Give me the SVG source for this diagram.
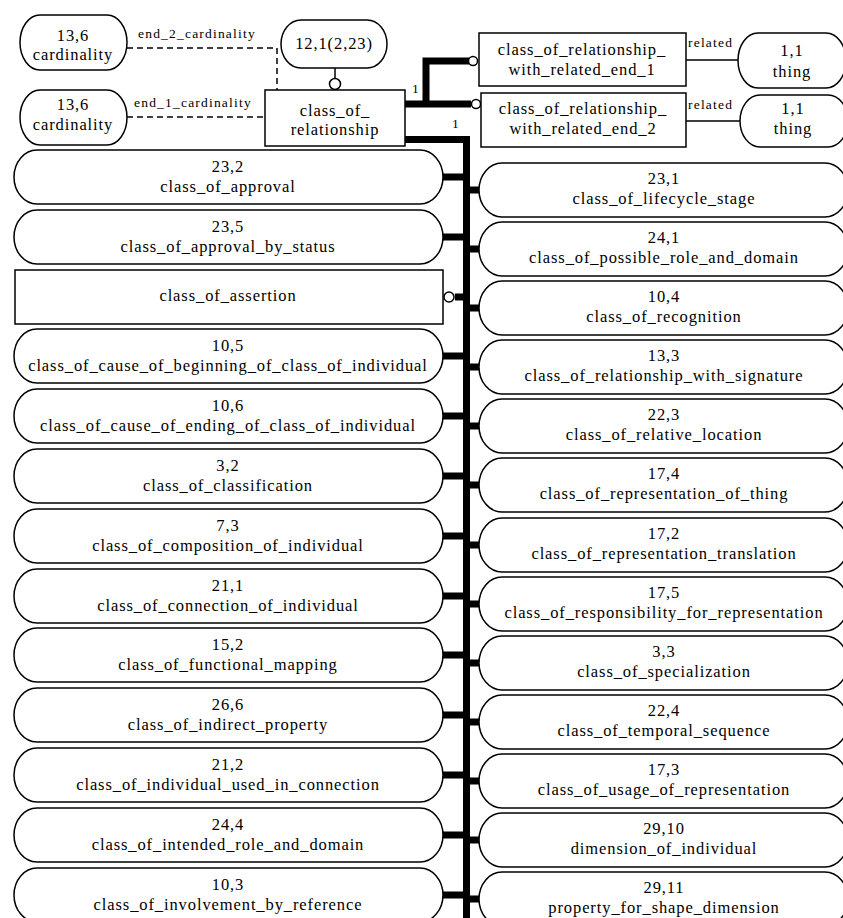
<svg xmlns="http://www.w3.org/2000/svg" xmlns:xlink="http://www.w3.org/1999/xlink" width="843" height="918" viewBox="0 0 843 918">
<style>
.n{fill:#fff;stroke:#000;stroke-width:1.5}
.t{font-family:"Liberation Serif","Times New Roman",serif;font-size:16.5px;letter-spacing:0.9px;text-anchor:middle;fill:#000}
.l{font-family:"Liberation Serif","Times New Roman",serif;font-size:13.5px;letter-spacing:1.2px;fill:#000}
.thick{fill:none;stroke:#000;stroke-width:7}
.dash{fill:none;stroke:#000;stroke-width:1.5;stroke-dasharray:6 4}
.thin{fill:none;stroke:#000;stroke-width:1.5}
.oc{fill:#fff;stroke:#000;stroke-width:1.5}
</style>
<defs>
<path id="pillL" d="M37,0 H420 A23,27 0 0 1 420,54 H37 A23,27 0 0 1 37,0 Z"/>
<path id="pillR" d="M502,0 H825 A23,27 0 0 1 825,54 H502 A23,27 0 0 1 502,0 Z"/>
</defs>
<rect width="843" height="918" fill="#fff"/>

<g id="connectors">
  <path class="dash" d="M127,48 H277 V90"/>
  <path class="dash" d="M127,117 H265"/>
  <text class="l" x="138" y="38">end_2_cardinality</text>
  <text class="l" x="134" y="107">end_1_cardinality</text>
  <path class="thin" d="M335,68 V78"/>
  <circle class="oc" cx="335" cy="84" r="5.5"/>
  <path class="thick" d="M404,104 H471 M426,104 V61 H469"/>
  <circle class="oc" cx="473" cy="61" r="4.5"/>
  <circle class="oc" cx="476" cy="104" r="4.5"/>
  <text class="l" x="412" y="93">1</text>
  <text class="l" x="452" y="128">1</text>
  <path class="thin" d="M686,60 H738 M686,121 H740"/>
  <text class="l" x="688" y="47">related</text>
  <text class="l" x="688" y="109">related</text>
  <path class="thick" d="M404,139.5 H466.5 V918"/>
  <!-- left stubs -->
  <path class="thick" d="M441,177 H466 M441,237 H466 M455,297 H466 M441,356 H466 M441,416 H466 M441,476 H466 M441,536 H466 M441,596 H466 M441,655 H466 M441,715 H466 M441,775 H466 M441,835 H466 M441,895 H466"/>
  <circle class="oc" cx="449" cy="297" r="5"/>
  <!-- right stubs -->
  <path class="thick" d="M466,190 H481 M466,249 H481 M466,308 H481 M466,367 H481 M466,426 H481 M466,485 H481 M466,545 H481 M466,604 H481 M466,663 H481 M466,722 H481 M466,781 H481 M466,840 H481 M466,899 H481"/>
</g>

<g id="card2"><path class="n" d="M40,15 H107 A20,27.5 0 0 1 107,70 H40 A20,27.5 0 0 1 40,15 Z"/><text class="t" x="73" y="41">13,6</text><text class="t" x="73" y="60">cardinality</text></g>
<g id="card1"><path class="n" d="M40,90 H107 A20,27.5 0 0 1 107,145 H40 A20,27.5 0 0 1 40,90 Z"/><text class="t" x="73" y="110">13,6</text><text class="t" x="73" y="130">cardinality</text></g>
<g id="n12_1"><path class="n" d="M301,20 H367 A20,24 0 0 1 367,68 H301 A20,24 0 0 1 301,20 Z"/><text class="t" x="334" y="49">12,1(2,23)</text></g>
<g id="class_of_relationship"><rect class="n" x="265" y="90" width="140" height="56"/><text class="t" x="335" y="116">class_of_</text><text class="t" x="335" y="135">relationship</text></g>
<g id="corwre1"><rect class="n" x="479" y="33" width="207" height="53"/><text class="t" x="582" y="55">class_of_relationship_</text><text class="t" x="582" y="75">with_related_end_1</text></g>
<g id="corwre2"><rect class="n" x="481" y="93" width="205" height="54"/><text class="t" x="583" y="114">class_of_relationship_</text><text class="t" x="583" y="134">with_related_end_2</text></g>
<g id="thing1"><path class="n" d="M758,33 H826 A20,27.5 0 0 1 826,88 H758 A20,27.5 0 0 1 758,33 Z"/><text class="t" x="792" y="56">1,1</text><text class="t" x="792" y="77">thing</text></g>
<g id="thing2"><path class="n" d="M760,95 H828 A20,26 0 0 1 828,147 H760 A20,26 0 0 1 760,95 Z"/><text class="t" x="793" y="114">1,1</text><text class="t" x="793" y="134">thing</text></g>

<g id="L0" transform="translate(0,150)"><use href="#pillL" class="n"/><text class="t" x="228" y="22">23,2</text><text class="t" x="228" y="42">class_of_approval</text></g>
<g id="L1" transform="translate(0,210)"><use href="#pillL" class="n"/><text class="t" x="228" y="22">23,5</text><text class="t" x="228" y="42">class_of_approval_by_status</text></g>
<g id="L2"><rect class="n" x="15" y="270" width="428" height="54"/><text class="t" x="228" y="301">class_of_assertion</text></g>
<g id="L3" transform="translate(0,329)"><use href="#pillL" class="n"/><text class="t" x="228" y="22">10,5</text><text class="t" x="228" y="42">class_of_cause_of_beginning_of_class_of_individual</text></g>
<g id="L4" transform="translate(0,389)"><use href="#pillL" class="n"/><text class="t" x="228" y="22">10,6</text><text class="t" x="228" y="42">class_of_cause_of_ending_of_class_of_individual</text></g>
<g id="L5" transform="translate(0,449)"><use href="#pillL" class="n"/><text class="t" x="228" y="22">3,2</text><text class="t" x="228" y="42">class_of_classification</text></g>
<g id="L6" transform="translate(0,509)"><use href="#pillL" class="n"/><text class="t" x="228" y="22">7,3</text><text class="t" x="228" y="42">class_of_composition_of_individual</text></g>
<g id="L7" transform="translate(0,569)"><use href="#pillL" class="n"/><text class="t" x="228" y="22">21,1</text><text class="t" x="228" y="42">class_of_connection_of_individual</text></g>
<g id="L8" transform="translate(0,628)"><use href="#pillL" class="n"/><text class="t" x="228" y="22">15,2</text><text class="t" x="228" y="42">class_of_functional_mapping</text></g>
<g id="L9" transform="translate(0,688)"><use href="#pillL" class="n"/><text class="t" x="228" y="22">26,6</text><text class="t" x="228" y="42">class_of_indirect_property</text></g>
<g id="L10" transform="translate(0,748)"><use href="#pillL" class="n"/><text class="t" x="228" y="22">21,2</text><text class="t" x="228" y="42">class_of_individual_used_in_connection</text></g>
<g id="L11" transform="translate(0,808)"><use href="#pillL" class="n"/><text class="t" x="228" y="22">24,4</text><text class="t" x="228" y="42">class_of_intended_role_and_domain</text></g>
<g id="L12" transform="translate(0,868)"><use href="#pillL" class="n"/><text class="t" x="228" y="22">10,3</text><text class="t" x="228" y="42">class_of_involvement_by_reference</text></g>

<g id="R0" transform="translate(0,163)"><use href="#pillR" class="n"/><text class="t" x="664" y="21">23,1</text><text class="t" x="664" y="41">class_of_lifecycle_stage</text></g>
<g id="R1" transform="translate(0,222)"><use href="#pillR" class="n"/><text class="t" x="664" y="21">24,1</text><text class="t" x="664" y="41">class_of_possible_role_and_domain</text></g>
<g id="R2" transform="translate(0,281)"><use href="#pillR" class="n"/><text class="t" x="664" y="21">10,4</text><text class="t" x="664" y="41">class_of_recognition</text></g>
<g id="R3" transform="translate(0,340)"><use href="#pillR" class="n"/><text class="t" x="664" y="21">13,3</text><text class="t" x="664" y="41">class_of_relationship_with_signature</text></g>
<g id="R4" transform="translate(0,399)"><use href="#pillR" class="n"/><text class="t" x="664" y="21">22,3</text><text class="t" x="664" y="41">class_of_relative_location</text></g>
<g id="R5" transform="translate(0,458)"><use href="#pillR" class="n"/><text class="t" x="664" y="21">17,4</text><text class="t" x="664" y="41">class_of_representation_of_thing</text></g>
<g id="R6" transform="translate(0,518)"><use href="#pillR" class="n"/><text class="t" x="664" y="21">17,2</text><text class="t" x="664" y="41">class_of_representation_translation</text></g>
<g id="R7" transform="translate(0,577)"><use href="#pillR" class="n"/><text class="t" x="664" y="21">17,5</text><text class="t" x="664" y="41">class_of_responsibility_for_representation</text></g>
<g id="R8" transform="translate(0,636)"><use href="#pillR" class="n"/><text class="t" x="664" y="21">3,3</text><text class="t" x="664" y="41">class_of_specialization</text></g>
<g id="R9" transform="translate(0,695)"><use href="#pillR" class="n"/><text class="t" x="664" y="21">22,4</text><text class="t" x="664" y="41">class_of_temporal_sequence</text></g>
<g id="R10" transform="translate(0,754)"><use href="#pillR" class="n"/><text class="t" x="664" y="21">17,3</text><text class="t" x="664" y="41">class_of_usage_of_representation</text></g>
<g id="R11" transform="translate(0,813)"><use href="#pillR" class="n"/><text class="t" x="664" y="21">29,10</text><text class="t" x="664" y="41">dimension_of_individual</text></g>
<g id="R12" transform="translate(0,872)"><use href="#pillR" class="n"/><text class="t" x="664" y="21">29,11</text><text class="t" x="664" y="41">property_for_shape_dimension</text></g>
</svg>
